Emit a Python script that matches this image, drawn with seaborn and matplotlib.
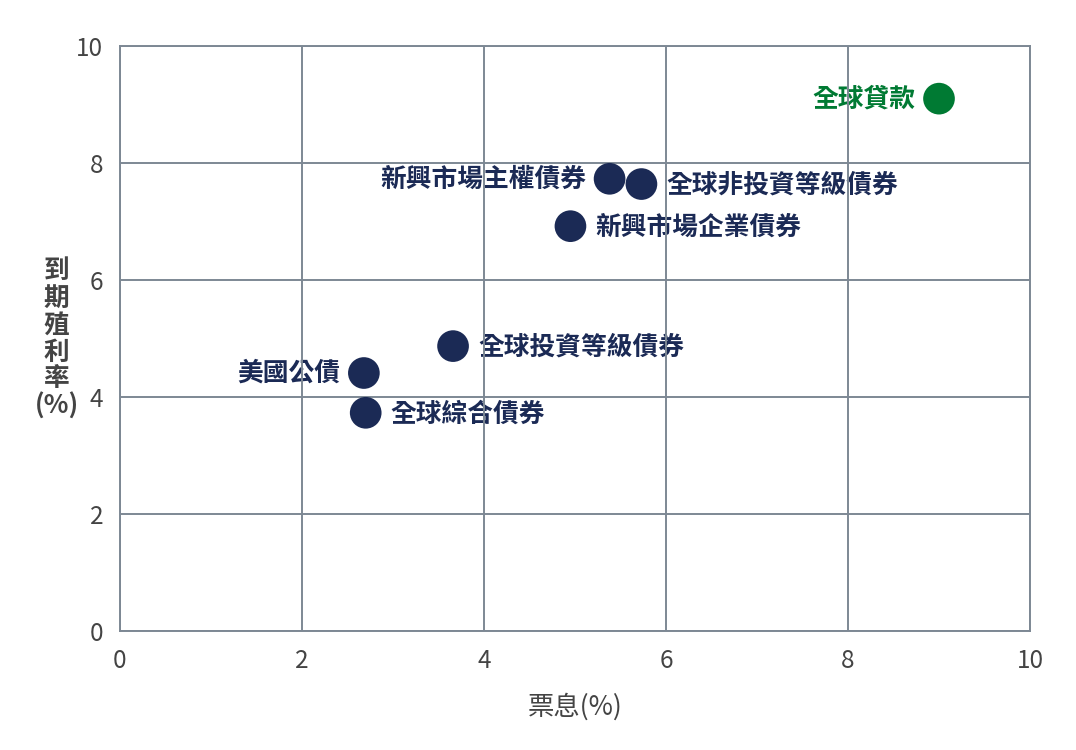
import numpy as np
import pandas as pd
import seaborn as sns
import matplotlib.pyplot as plt

names = ["全球貸款", "新興市場主權債券", "全球非投資等級債券", "新興市場企業債券",
         "全球投資等級債券", "美國公債", "全球綜合債券"]
coupon = [9.0, 5.38, 5.73, 4.95, 3.66, 2.68, 2.70]
ytm = [9.1, 7.73, 7.64, 6.92, 4.87, 4.41, 3.73]
group = ["loan", "bond", "bond", "bond", "bond", "bond", "bond"]
label_side = ["left", "left", "right", "right", "right", "left", "right"]

df = pd.DataFrame({"name": names, "coupon": coupon, "ytm": ytm,
                   "group": group, "side": label_side})

sns.set_style("white")
plt.rcParams["font.family"] = ["Noto Sans CJK TC", "DejaVu Sans"]

navy = "#1b2a55"
green = "#007a33"
grid_c = "#7d8894"

fig = plt.figure(figsize=(10.76, 7.5), dpi=100)
ax = fig.add_axes([120 / 1076, 1 - 631 / 750, 910 / 1076, 585 / 750])

sns.scatterplot(data=df, x="coupon", y="ytm", hue="group",
                palette={"loan": green, "bond": navy}, s=520,
                edgecolor="none", legend=False, ax=ax, zorder=3)

for _, r in df.iterrows():
    c = green if r["group"] == "loan" else navy
    if r["side"] == "left":
        ax.annotate(r["name"], (r["coupon"], r["ytm"]), xytext=(-17, 0),
                    textcoords="offset points", ha="right", va="center",
                    fontsize=18.5, fontweight="bold", color=c, zorder=1)
    else:
        ax.annotate(r["name"], (r["coupon"], r["ytm"]), xytext=(18, -1),
                    textcoords="offset points", ha="left", va="center",
                    fontsize=18.5, fontweight="bold", color=c, zorder=1)

ax.set_xlim(0, 10)
ax.set_ylim(0, 10)
ax.set_xticks(np.arange(0, 11, 2))
ax.set_yticks(np.arange(0, 11, 2))
ax.grid(True, color=grid_c, linewidth=1.4, zorder=2)
ax.set_axisbelow(False)
for sp in ax.spines.values():
    sp.set_color(grid_c)
    sp.set_linewidth(1.4)
ax.tick_params(axis="both", length=0, labelsize=17.5, labelcolor="#444444", pad=12)
for t in ax.get_xticklabels() + ax.get_yticklabels():
    t.set_fontweight("light")

ax.set_xlabel("票息(%)", fontsize=19, color="#444444", labelpad=14)
ax.set_ylabel("到\n期\n殖\n利\n率\n(%)", fontsize=18.5, color="#444444",
              fontweight="semibold", rotation=0, va="center", ha="center",
              linespacing=1.0, labelpad=14)

fig.savefig("out.png", dpi=100)
